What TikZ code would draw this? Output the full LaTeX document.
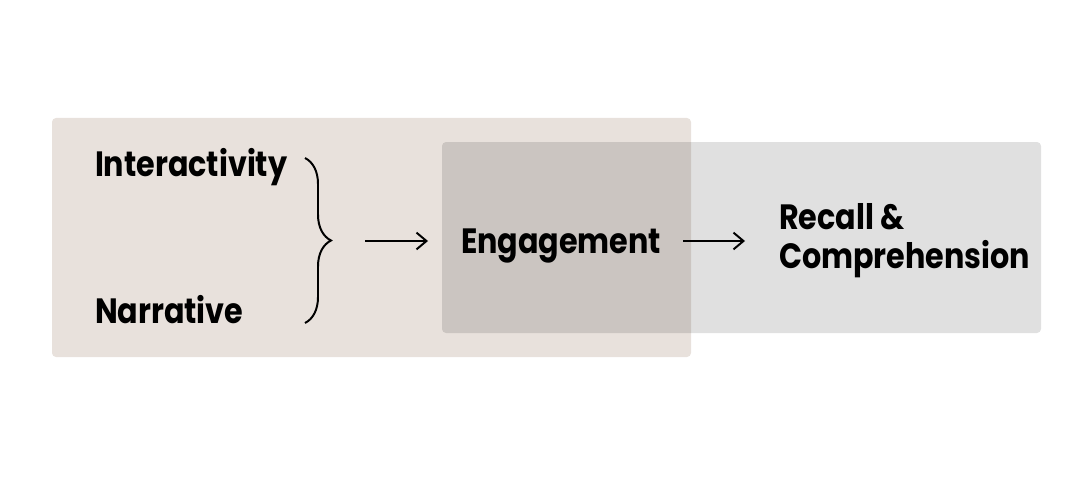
\documentclass[tikz,border=0pt]{standalone}
\usepackage{fontspec}
\setmainfont{Poppins}[FakeStretch=0.86]
\usetikzlibrary{arrows.meta, decorations.pathreplacing, calc}
\definecolor{themeSand}{RGB}{232, 225, 220}
\definecolor{themeShade}{RGB}{0, 0, 0}

\begin{document}
\begin{tikzpicture} [
        font=\bfseries\fontsize{25}{28}\selectfont,
        lbl/.style={inner sep=0, outer sep=0, align=left},
        panel/.style={rounded corners=0.1cm},
        arr/.style={line width=1.4pt, -{Straight Barb[length=0.25cm, width=0.42cm, line width=1.4pt]}}
    ]

    \useasboundingbox (0,0) rectangle (27,12);

    % background panels
    \fill[panel, themeSand] (1.3,3.075) rectangle (17.275,9.05);
    \fill[panel, themeShade, fill opacity=0.12] (11.05,3.675) rectangle (26.025,8.45);

    \node[lbl, anchor=base west] (inter) at (2.375,7.6) {Interactivity};
    \node[lbl, anchor=base west] (narr) at (2.375,3.925) {Narrative};
    \node[lbl, anchor=base west] (eng) at (11.525,5.675) {Engagement};
    \node[lbl, anchor=west] (rc) at (19.475,5.98) {Recall \&\\Comprehension};

    \coordinate (brtop) at (7.625,8.05);
    \coordinate (brbot) at (7.625,3.925);
    \coordinate (brtip) at (8.3,5.975);

    \draw[line width=1.4pt, decorate, decoration={brace, amplitude=0.65cm}] (brtop) -- (brbot);

    \draw[arr, shorten <=0.825cm, shorten >=0.825cm] (brtip) -- (brtip -| eng.west);
    \draw[arr, shorten <=0.55cm, shorten >=0.85cm] (brtip -| eng.east) -- (brtip -| rc.west);

\end{tikzpicture}
\end{document}
